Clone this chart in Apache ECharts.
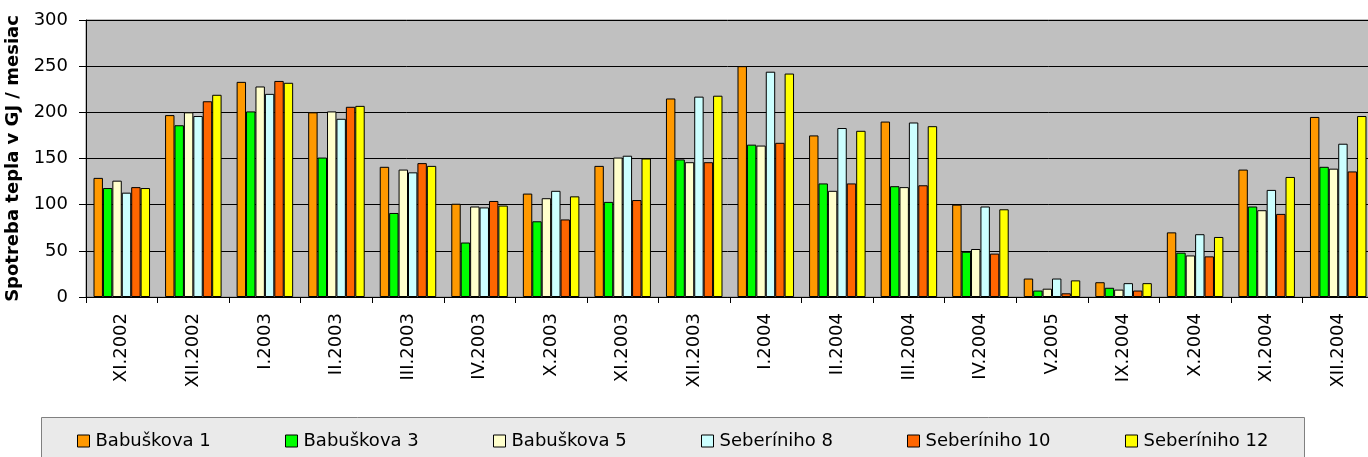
<!DOCTYPE html>
<html>
<head>
<meta charset="utf-8">
<script src="https://cdn.jsdelivr.net/npm/echarts@6/dist/echarts.min.js"></script>
<style>
html,body{margin:0;padding:0;background:#fff;}
#chart{width:1368px;height:457px;}
</style>
</head>
<body>
<div id="chart"></div>
<script>
const categories = ["XI.2002","XII.2002","I.2003","II.2003","III.2003","IV.2003","X.2003","XI.2003","XII.2003","I.2004","II.2004","III.2004","IV.2004","V.2005","IX.2004","X.2004","XI.2004","XII.2004"];
const seriesNames = ["Babuškova 1","Babuškova 3","Babuškova 5","Seberíniho 8","Seberíniho 10","Seberíniho 12"];
const babuskova1 = [129,197,233,200,141,101,112,142,215,250,175,190,100,20,16,70,138,195];
const babuskova3 = [118,186,201,151,91,59,82,103,149,165,123,120,49,7,10,48,98,141];
const babuskova5 = [126,200,228,201,138,98,107,151,146,164,115,119,52,9,8,45,94,139];
const seberiniho8 = [113,196,220,193,135,97,115,153,217,244,183,189,98,20,15,68,116,166];
const seberiniho10 = [119,212,234,206,145,104,84,105,146,167,123,121,47,4,7,44,90,136];
const seberiniho12 = [118,219,232,207,142,99,109,150,218,242,180,185,95,18,15,65,130,196];
const yTicks = [0,50,100,150,200,250,300];
const yTitle = "Spotreba tepla v GJ / mesiac";

const colors = ["#FF9900","#00FF00","#FFFFCC","#CCFFFF","#FF6600","#FFFF00"];
const values = [babuskova1,babuskova3,babuskova5,seberiniho8,seberiniho10,seberiniho12];
const legendLeft = [77,285,493,701,907,1125];
const FONT = "DejaVu Sans";

const chart = echarts.init(document.getElementById('chart'), null, {renderer:'canvas'});
const option = {
  animation:false,
  textStyle:{fontFamily:FONT},
  graphic:[{
    type:'rect', z:-10,
    shape:{x:41.5,y:417.5,width:1263,height:60},
    style:{fill:'#EAEAEA',stroke:'#808080',lineWidth:1}
  }],
  legend: seriesNames.map((n,i)=>({
    data:[n], left:legendLeft[i], top:432, padding:0,
    itemWidth:12, itemHeight:12, icon:'rect', itemGap:0,
    itemStyle:{borderColor:'#000',borderWidth:1},
    textStyle:{fontFamily:FONT,fontSize:18,color:'#000',padding:[0,0,0,1]}
  })),
  grid:{left:86, top:20, width:1288, height:277, show:true, backgroundColor:'#C0C0C0', borderColor:'#808080', borderWidth:1, containLabel:false, outerBoundsMode:'none'},
  xAxis:{
    type:'category', data:categories, boundaryGap:true,
    axisLine:{show:true,lineStyle:{color:'#000',width:1}},
    axisTick:{show:true,alignWithLabel:false,length:6,lineStyle:{color:'#000'}},
    axisLabel:{rotate:90,margin:16,fontFamily:FONT,fontSize:18,color:'#000',interval:0},
    splitLine:{show:false}
  },
  yAxis:{
    type:'value', min:yTicks[0], max:yTicks[yTicks.length-1], interval:50,
    name:yTitle, nameLocation:'middle', nameGap:55,
    nameTextStyle:{fontFamily:FONT,fontSize:18,fontWeight:'bold',color:'#000'},
    axisLine:{show:true,lineStyle:{color:'#000',width:1}},
    axisTick:{show:true,length:7,lineStyle:{color:'#000'}},
    axisLabel:{margin:18,fontFamily:FONT,fontSize:18,color:'#000'},
    splitLine:{show:true,lineStyle:{color:'#000',width:1}}
  },
  series: seriesNames.map((n,i)=>({
    name:n, type:'bar', data:values[i],
    barGap:'0%', barCategoryGap:'21%',
    itemStyle:{color:colors[i],borderColor:'#000',borderWidth:1},
    emphasis:{disabled:true}
  }))
};
chart.setOption(option);
</script>
</body>
</html>
